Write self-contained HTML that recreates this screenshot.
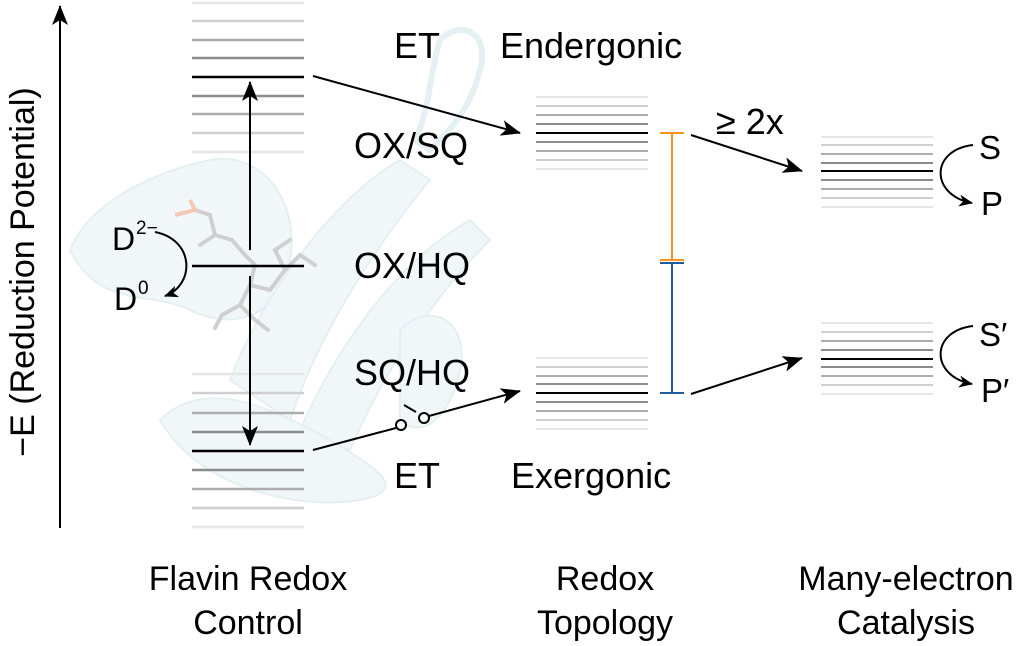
<!DOCTYPE html>
<html><head><meta charset="utf-8"><style>
html,body{margin:0;padding:0;background:#fff;}
svg{display:block;}
text{font-family:"Liberation Sans",sans-serif;fill:#000;}
</style></head><body>
<svg width="1023" height="646" viewBox="0 0 1023 646" xmlns="http://www.w3.org/2000/svg">
<defs>
<marker id="ah" viewBox="0 0 14 12" markerWidth="14" markerHeight="12" refX="13" refY="6" orient="auto" markerUnits="userSpaceOnUse">
<path d="M0,0 L14,6 L0,12 L4,6 Z" fill="#000"/></marker>
<marker id="ah2" viewBox="0 0 20 16" markerWidth="20" markerHeight="16" refX="19" refY="8" orient="auto" markerUnits="userSpaceOnUse">
<path d="M0,0 L20,8 L0,16 L5,8 Z" fill="#000"/></marker>
</defs>
<!-- protein background (faint) -->
<g fill="#eef6f8" stroke="#dfecef" stroke-width="2" opacity="0.8">
<path d="M70,250 C90,200 160,170 210,160 C260,150 300,200 290,260 C280,320 230,330 190,310 C150,290 100,310 70,250 Z"/>
<path d="M230,380 C260,300 330,200 400,160 L430,180 C380,240 320,330 290,420 Z"/>
<path d="M300,430 C340,340 400,260 470,220 L490,240 C430,300 380,380 350,450 Z"/>
<path d="M160,420 C200,380 260,400 330,440 C380,470 410,490 360,500 C300,510 200,490 160,420 Z"/>
<path d="M440,40 C460,20 490,30 480,70 C470,110 450,130 430,150 L415,140 C430,110 430,70 440,40 Z" fill="none" stroke-width="6"/>
<path d="M400,330 C430,300 470,320 460,370 C450,420 420,440 400,420 Z"/>
</g>
<!-- flavin molecule -->
<g stroke="#cfcfcf" stroke-width="4" fill="none" stroke-linecap="round">
<path d="M200,245 L215,235 L232,240 L245,255 L255,265 L250,285 L240,305 L222,315 L215,328"/>
<path d="M250,285 L270,290 L285,270 L300,255 L315,265 M285,270 L275,250 L290,240"/>
<path d="M240,305 L255,320 L268,330"/>
<path d="M215,235 L210,215 L195,210"/>
</g>
<g stroke="#f5c8b5" stroke-width="4" fill="none"><path d="M175,215 L195,210 L190,200"/></g>
<!-- axis -->
<line x1="60" y1="528" x2="60" y2="6" stroke="#000" stroke-width="2" marker-end="url(#ah2)"/>
<text transform="translate(34,272) rotate(-90)" font-size="34" text-anchor="middle">−E (Reduction Potential)</text>
<!-- left stack -->
<g stroke-width="2.5">
<line x1="192" x2="304" y1="3" y2="3" stroke="#e6e6e6"/>
<line x1="192" x2="304" y1="21" y2="21" stroke="#cfcfcf"/>
<line x1="192" x2="304" y1="40" y2="40" stroke="#adadad"/>
<line x1="192" x2="304" y1="58" y2="58" stroke="#8c8c8c"/>
<line x1="192" x2="304" y1="77" y2="77" stroke="#000"/>
<line x1="192" x2="304" y1="96" y2="96" stroke="#8c8c8c"/>
<line x1="192" x2="304" y1="114" y2="114" stroke="#adadad"/>
<line x1="192" x2="304" y1="133" y2="133" stroke="#cfcfcf"/>
<line x1="192" x2="304" y1="152" y2="152" stroke="#e6e6e6"/>
<line x1="192" x2="304" y1="266" y2="266" stroke="#000"/>
<line x1="192" x2="304" y1="374" y2="374" stroke="#e6e6e6"/>
<line x1="192" x2="304" y1="393" y2="393" stroke="#cfcfcf"/>
<line x1="192" x2="304" y1="413" y2="413" stroke="#adadad"/>
<line x1="192" x2="304" y1="432" y2="432" stroke="#8c8c8c"/>
<line x1="192" x2="304" y1="451" y2="451" stroke="#000"/>
<line x1="192" x2="304" y1="470" y2="470" stroke="#8c8c8c"/>
<line x1="192" x2="304" y1="489" y2="489" stroke="#adadad"/>
<line x1="192" x2="304" y1="508" y2="508" stroke="#cfcfcf"/>
<line x1="192" x2="304" y1="527" y2="527" stroke="#e6e6e6"/>
</g>
<line x1="250" y1="250" x2="250" y2="82" stroke="#000" stroke-width="2" marker-end="url(#ah2)"/>
<line x1="250" y1="276" x2="250" y2="445" stroke="#000" stroke-width="2" marker-end="url(#ah2)"/>
<!-- D labels -->
<text x="112" y="250" font-size="32">D</text><text x="136" y="234" font-size="19">2−</text>
<text x="114" y="310" font-size="32">D</text><text x="138" y="294" font-size="19">0</text>
<path d="M155,232 C195,240 195,285 165,296" fill="none" stroke="#000" stroke-width="2" marker-end="url(#ah)"/>
<!-- labels middle -->
<g font-size="36">
<text x="394" y="58">ET</text>
<text x="500" y="58">Endergonic</text>
<text x="354" y="158">OX/SQ</text>
<text x="354" y="278">OX/HQ</text>
<text x="354" y="385">SQ/HQ</text>
<text x="394" y="488">ET</text>
<text x="511" y="488">Exergonic</text>
<text x="716" y="134">≥ 2x</text>
</g>
<!-- left connectors -->
<line x1="313" y1="76" x2="520" y2="133" stroke="#000" stroke-width="2" marker-end="url(#ah2)"/>
<line x1="313" y1="450" x2="396" y2="428" stroke="#000" stroke-width="2"/>
<circle cx="401" cy="425" r="5" fill="#fff" stroke="#000" stroke-width="2"/>
<circle cx="424" cy="418" r="5" fill="#fff" stroke="#000" stroke-width="2"/>
<line x1="404" y1="405" x2="416" y2="412" stroke="#000" stroke-width="2"/>
<line x1="429" y1="416" x2="520" y2="391" stroke="#000" stroke-width="2" marker-end="url(#ah2)"/>
<!-- middle stacks -->
<g stroke-width="2">
<line x1="536" x2="648" y1="97" y2="97" stroke="#e6e6e6"/>
<line x1="536" x2="648" y1="106" y2="106" stroke="#cfcfcf"/>
<line x1="536" x2="648" y1="115" y2="115" stroke="#adadad"/>
<line x1="536" x2="648" y1="124" y2="124" stroke="#8c8c8c"/>
<line x1="536" x2="648" y1="133" y2="133" stroke="#000"/>
<line x1="536" x2="648" y1="142" y2="142" stroke="#8c8c8c"/>
<line x1="536" x2="648" y1="151" y2="151" stroke="#adadad"/>
<line x1="536" x2="648" y1="160" y2="160" stroke="#cfcfcf"/>
<line x1="536" x2="648" y1="169" y2="169" stroke="#e6e6e6"/>
<line x1="536" x2="648" y1="358" y2="358" stroke="#e6e6e6"/>
<line x1="536" x2="648" y1="367" y2="367" stroke="#cfcfcf"/>
<line x1="536" x2="648" y1="376" y2="376" stroke="#adadad"/>
<line x1="536" x2="648" y1="384" y2="384" stroke="#8c8c8c"/>
<line x1="536" x2="648" y1="393" y2="393" stroke="#000"/>
<line x1="536" x2="648" y1="402" y2="402" stroke="#8c8c8c"/>
<line x1="536" x2="648" y1="411" y2="411" stroke="#adadad"/>
<line x1="536" x2="648" y1="420" y2="420" stroke="#cfcfcf"/>
<line x1="536" x2="648" y1="429" y2="429" stroke="#e6e6e6"/>
<line x1="821" x2="933" y1="137" y2="137" stroke="#e6e6e6"/>
<line x1="821" x2="933" y1="145" y2="145" stroke="#cfcfcf"/>
<line x1="821" x2="933" y1="154" y2="154" stroke="#adadad"/>
<line x1="821" x2="933" y1="163" y2="163" stroke="#8c8c8c"/>
<line x1="821" x2="933" y1="171" y2="171" stroke="#000"/>
<line x1="821" x2="933" y1="180" y2="180" stroke="#8c8c8c"/>
<line x1="821" x2="933" y1="189" y2="189" stroke="#adadad"/>
<line x1="821" x2="933" y1="198" y2="198" stroke="#cfcfcf"/>
<line x1="821" x2="933" y1="207" y2="207" stroke="#e6e6e6"/>
<line x1="821" x2="933" y1="323" y2="323" stroke="#e6e6e6"/>
<line x1="821" x2="933" y1="332" y2="332" stroke="#cfcfcf"/>
<line x1="821" x2="933" y1="341" y2="341" stroke="#adadad"/>
<line x1="821" x2="933" y1="350" y2="350" stroke="#8c8c8c"/>
<line x1="821" x2="933" y1="359" y2="359" stroke="#000"/>
<line x1="821" x2="933" y1="367" y2="367" stroke="#8c8c8c"/>
<line x1="821" x2="933" y1="376" y2="376" stroke="#adadad"/>
<line x1="821" x2="933" y1="385" y2="385" stroke="#cfcfcf"/>
<line x1="821" x2="933" y1="394" y2="394" stroke="#e6e6e6"/>
</g>
<!-- brackets -->
<g stroke-width="2">
<line x1="672" y1="133" x2="672" y2="261" stroke="#f7941d"/>
<line x1="660" y1="133" x2="684" y2="133" stroke="#f7941d"/>
<line x1="660" y1="260" x2="684" y2="260" stroke="#f7941d"/>
<line x1="672" y1="263" x2="672" y2="393" stroke="#1f5c99"/>
<line x1="660" y1="263" x2="684" y2="263" stroke="#1f5c99"/>
<line x1="660" y1="393" x2="684" y2="393" stroke="#1f5c99"/>
</g>
<line x1="691" y1="135" x2="802" y2="171" stroke="#000" stroke-width="2" marker-end="url(#ah2)"/>
<line x1="691" y1="394" x2="802" y2="358" stroke="#000" stroke-width="2" marker-end="url(#ah2)"/>
<!-- catalysis arrows -->
<path d="M973,145 C930,150 930,195 972,203" fill="none" stroke="#000" stroke-width="2" marker-end="url(#ah)"/>
<path d="M973,326 C930,331 930,376 972,384" fill="none" stroke="#000" stroke-width="2" marker-end="url(#ah)"/>
<g font-size="33">
<text x="979" y="159">S</text>
<text x="981" y="215">P</text>
<text x="979" y="346">S′</text>
<text x="981" y="402">P′</text>
</g>
<!-- bottom labels -->
<g font-size="34" text-anchor="middle">
<text x="248" y="590">Flavin Redox</text>
<text x="248" y="634">Control</text>
<text x="605" y="590">Redox</text>
<text x="605" y="634">Topology</text>
<text x="906" y="590">Many-electron</text>
<text x="906" y="634">Catalysis</text>
</g>
</svg>
</body></html>
